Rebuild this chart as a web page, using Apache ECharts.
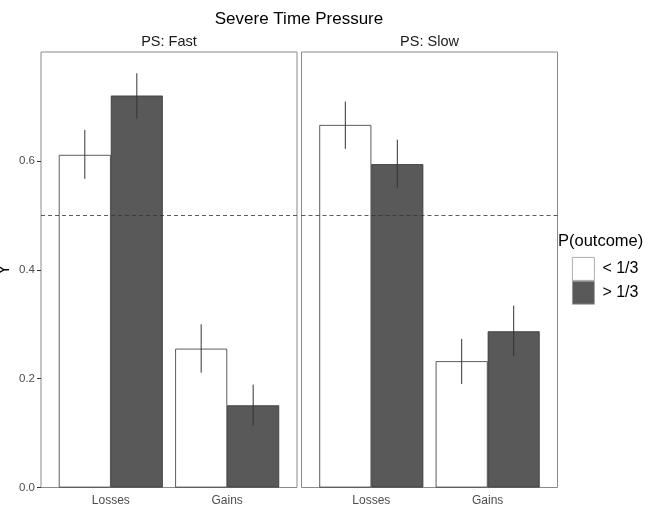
<!DOCTYPE html>
<html>
<head>
<meta charset="utf-8">
<script src="https://cdn.jsdelivr.net/npm/echarts@6/dist/echarts.min.js"></script>
<style>html,body{margin:0;padding:0;background:#fff;}#c{width:660px;height:505px;}</style>
</head>
<body>
<div id="c"></div>
<script>
const categories = ['Losses', 'Gains'];
const panels = ['PS: Fast', 'PS: Slow'];
const groups = ['< 1/3', '> 1/3'];
const yTicks = [0, 0.2, 0.4, 0.6];
// values per panel: [group][category]
const fastLow = [0.611, 0.255];
const fastHigh = [0.720, 0.151];
const slowLow = [0.666, 0.232];
const slowHigh = [0.594, 0.287];
// error bar bounds [low, high]
const fastLowErr = [[0.567, 0.657], [0.211, 0.300]];
const fastHighErr = [[0.678, 0.761], [0.113, 0.189]];
const slowLowErr = [[0.622, 0.709], [0.190, 0.273]];
const slowHighErr = [[0.550, 0.639], [0.241, 0.334]];
const refLine = 0.5;

const panelVals = [[fastLow, fastHigh], [slowLow, slowHigh]];
const panelErrs = [[fastLowErr, fastHighErr], [slowLowErr, slowHighErr]];
const fills = ['#ffffff', '#595959'];
const FONT = 'Liberation Sans, Arial, Helvetica, sans-serif';
const BARW = 52;

const grids = [
  {left: 41, top: 52, width: 256, height: 435.5},
  {left: 301.5, top: 52, width: 256, height: 435.5}
].map(g => Object.assign(g, {show: true, borderColor: '#8a8a8a', borderWidth: 1, backgroundColor: 'transparent', containLabel: false, outerBoundsMode: 'none'}));

const xAxes = panels.map((p, i) => ({
  type: 'value', gridIndex: i, min: 0.4, max: 2.6,
  axisLine: {show: false}, axisTick: {show: false}, splitLine: {show: false},
  axisLabel: {
    customValues: [1, 2], margin: 7, color: '#4d4d4d', fontSize: 12, fontFamily: FONT,
    formatter: v => categories[Math.round(v) - 1] || ''
  }
}));
const yAxes = panels.map((p, i) => ({
  type: 'value', gridIndex: i, min: 0, max: 0.8,
  name: i === 0 ? 'Y' : '', nameLocation: 'middle', nameGap: 28, nameRotate: 90,
  nameTextStyle: {fontSize: 16, color: '#000', fontFamily: FONT},
  axisLine: {show: false}, splitLine: {show: false},
  axisTick: {show: i === 0, length: 4, customValues: yTicks, lineStyle: {color: '#333'}},
  axisLabel: {show: i === 0, customValues: yTicks, color: '#4d4d4d', fontSize: 11.5, fontFamily: FONT, margin: 6,
    formatter: v => v.toFixed(1)}
}));

const series = [];
panels.forEach((p, pi) => {
  groups.forEach((g, gi) => {
    series.push({
      type: 'bar', name: g, xAxisIndex: pi, yAxisIndex: pi,
      barWidth: BARW, barGap: '0%',
      itemStyle: {color: fills[gi], borderColor: '#333', borderWidth: 0.8},
      data: categories.map((c, ci) => [ci + 1, panelVals[pi][gi][ci]]),
      markLine: gi === 0 ? {
        silent: true, symbol: 'none', label: {show: false},
        lineStyle: {type: [4, 3], color: '#333', width: 0.8},
        data: [{yAxis: refLine}]
      } : undefined,
      z: 2
    });
  });
  groups.forEach((g, gi) => {
    const off = gi === 0 ? -BARW / 2 : BARW / 2;
    series.push({
      type: 'custom', xAxisIndex: pi, yAxisIndex: pi, z: 5,
      data: categories.map((c, ci) => [ci + 1, panelErrs[pi][gi][ci][0], panelErrs[pi][gi][ci][1]]),
      encode: {x: 0, y: [1, 2]},
      renderItem: (params, api) => {
        const a = api.coord([api.value(0), api.value(1)]);
        const b = api.coord([api.value(0), api.value(2)]);
        return {type: 'line', shape: {x1: a[0] + off, y1: a[1], x2: b[0] + off, y2: b[1]},
          style: {stroke: '#333', lineWidth: 1}};
      }
    });
  });
});

const option = {
  animation: false,
  backgroundColor: '#fff',
  grid: grids,
  xAxis: xAxes,
  yAxis: yAxes,
  legend: {
    data: groups, orient: 'vertical', left: 572, top: 257, padding: 0,
    itemWidth: 22, itemHeight: 23, itemGap: 0, icon: 'rect',
    itemStyle: {borderWidth: 0.8, borderColor: '#999'},
    textStyle: {fontSize: 16, color: '#000', fontFamily: FONT, padding: [0, 0, 0, 3]}
  },
  graphic: [
    {type: 'text', x: 299, y: 19, style: {text: 'Severe Time Pressure', fontSize: 17, fontFamily: FONT, fill: '#000', textAlign: 'center', textVerticalAlign: 'middle'}},
    {type: 'text', x: 169, y: 42, style: {text: panels[0], fontSize: 14.5, fontFamily: FONT, fill: '#1a1a1a', textAlign: 'center', textVerticalAlign: 'middle'}},
    {type: 'text', x: 429.5, y: 42, style: {text: panels[1], fontSize: 14.5, fontFamily: FONT, fill: '#1a1a1a', textAlign: 'center', textVerticalAlign: 'middle'}},
    {type: 'text', x: 558, y: 241, style: {text: 'P(outcome)', fontSize: 16.5, fontFamily: FONT, fill: '#000', textAlign: 'left', textVerticalAlign: 'middle'}}
  ],
  series: series
};
const chart = echarts.init(document.getElementById('c'), null, {renderer: 'canvas'});
chart.setOption(option);
</script>
</body>
</html>
